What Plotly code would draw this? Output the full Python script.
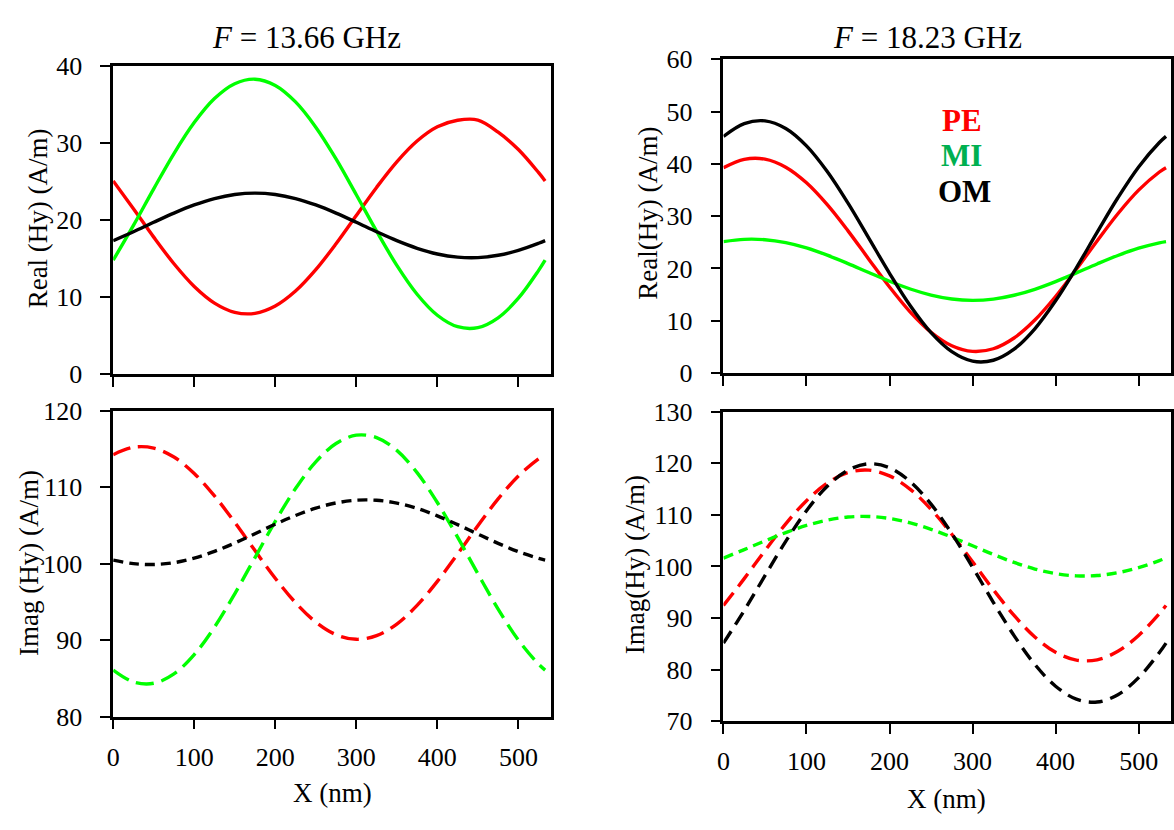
import plotly.graph_objects as go

W, H = 1174, 830

# ---------------- data ----------------
x_nm = [0, 25, 50, 75, 100, 125, 150, 175, 200, 225, 250, 275, 300,
        325, 350, 375, 400, 425, 450, 475, 500, 525, 533]

# F = 13.66 GHz, Real(Hy)
re13_pe = [25.08, 21.47, 17.78, 14.32, 11.37, 9.21, 8.01, 7.88, 8.83, 10.77, 13.55, 16.92,
           20.59, 24.24, 27.56, 30.26, 32.11, 32.96, 32.99, 31.42, 29.16, 26.15, 25.08]
re13_mi = [14.78, 19.30, 24.05, 28.64, 32.66, 35.78, 37.71, 38.30, 37.49, 35.35, 32.07, 27.94,
           23.29, 18.55, 14.11, 10.36, 7.63, 6.14, 6.02, 7.30, 9.84, 13.46, 14.78]
re13_om = [17.32, 18.48, 19.71, 20.90, 21.96, 22.79, 23.32, 23.50, 23.32, 22.79, 21.96, 20.90,
           19.71, 18.48, 17.32, 16.33, 15.59, 15.18, 15.12, 15.42, 16.06, 16.98, 17.32]

# F = 13.66 GHz, Imag(Hy)
im13_pe = [114.24, 115.21, 115.10, 113.93, 111.78, 108.85, 105.39, 101.70, 98.09, 94.89, 92.36, 90.71,
           90.10, 90.58, 92.10, 94.54, 97.68, 101.25, 104.95, 108.46, 111.46, 113.71, 114.24]
im13_mi = [86.07, 84.52, 84.35, 85.58, 88.10, 91.69, 96.05, 100.79, 105.52, 109.81, 113.31, 115.70,
           116.79, 116.48, 114.80, 111.89, 107.99, 103.46, 98.68, 94.06, 90.00, 86.84, 86.07]
im13_om = [100.46, 99.99, 99.88, 100.12, 100.71, 101.60, 102.69, 103.91, 105.15, 106.29, 107.25, 107.93,
           108.29, 108.28, 107.91, 107.22, 106.25, 105.10, 103.86, 102.65, 101.56, 100.68, 100.46]

# F = 18.23 GHz, Real(Hy)
re18_pe = [39.27, 40.88, 40.92, 39.37, 36.38, 32.19, 27.19, 21.78, 16.45, 11.65, 7.79, 5.21,
           4.13, 4.64, 6.70, 10.13, 14.64, 19.83, 25.26, 30.47, 34.98, 38.45, 39.27]
re18_mi = [25.14, 25.57, 25.50, 24.93, 23.92, 22.54, 20.93, 19.22, 17.55, 16.07, 14.91, 14.16,
           13.90, 14.14, 14.87, 16.01, 17.48, 19.15, 20.86, 22.48, 23.87, 24.90, 25.14]
re18_om = [45.26, 47.72, 48.24, 46.78, 43.45, 38.54, 32.49, 25.81, 19.08, 12.87, 7.73, 4.09,
           2.27, 2.44, 4.56, 8.46, 13.81, 20.13, 26.90, 33.52, 39.42, 44.09, 45.26]

# F = 18.23 GHz, Imag(Hy)
im18_pe = [92.44, 97.65, 103.08, 108.26, 112.75, 116.16, 118.19, 118.67, 117.55, 114.95, 111.07, 106.25,
           100.91, 95.51, 90.52, 86.36, 83.39, 81.87, 81.93, 83.57, 86.65, 90.89, 92.44]
im18_mi = [101.63, 103.27, 104.96, 106.57, 107.95, 108.98, 109.58, 109.69, 109.30, 108.45, 107.21, 105.69,
           104.01, 102.33, 100.79, 99.51, 98.62, 98.19, 98.25, 98.80, 99.79, 101.14, 101.63]
im18_om = [85.17, 91.47, 98.23, 104.86, 110.81, 115.54, 118.65, 119.89, 119.13, 116.44, 112.07, 106.38,
           99.86, 93.07, 86.61, 81.03, 76.81, 74.31, 73.75, 75.18, 78.47, 83.34, 85.17]

titles = ["<i>F</i> = 13.66 GHz", "<i>F</i> = 18.23 GHz"]
y_titles = ["Real (Hy) (A/m)", "Real(Hy) (A/m)", "Imag (Hy) (A/m)", "Imag(Hy) (A/m)"]
x_title = "X (nm)"
legend_names = ["PE", "MI", "OM"]

RED, GREEN, BLACK = "#ff0000", "#00ff00", "#000000"
FONT = "Liberation Serif, Times New Roman, serif"


def px(x):
    return x / W


def py(y):
    return 1 - y / H


fig = go.Figure()

panels = [
    ("x", "y", [re13_pe, re13_mi, re13_om], ["solid", "solid", "solid"]),
    ("x2", "y2", [re18_pe, re18_mi, re18_om], ["solid", "solid", "solid"]),
    ("x3", "y3", [im13_pe, im13_mi, im13_om], ["18px,8px", "18px,8px", "10px,6px"]),
    ("x4", "y4", [im18_pe, im18_mi, im18_om], ["16px,8px", "10px,6px", "14px,8px"]),
]
colors = [RED, GREEN, BLACK]
for xa, ya, series, dashes in panels:
    for s, c, d, n in zip(series, colors, dashes, legend_names):
        fig.add_trace(go.Scatter(x=x_nm, y=s, mode="lines", xaxis=xa, yaxis=ya, name=n,
                                 showlegend=False,
                                 line=dict(color=c, width=3.4, dash=d, shape="spline", smoothing=1.0)))

axis_common = dict(showline=True, linecolor="black", linewidth=2.6, mirror=True,
                   ticks="outside", ticklen=10, tickwidth=1.5, tickcolor="black",
                   showgrid=False, zeroline=False,
                   tickfont=dict(family=FONT, size=26, color="black"))

xl = [px(107), px(548)]
xr = [px(722), px(1173)]
dom = {
    "1": (xl, [py(373), py(54)]),
    "2": (xr, [py(372), py(47)]),
    "3": (xl, [py(728), py(411)]),
    "4": (xr, [py(733), py(412)]),
}
yr = {"1": [0, 40], "2": [0, 60], "3": [80, 120], "4": [70, 130]}
xrng = {"1": [0, 540], "2": [0, 539], "3": [0, 540], "4": [0, 539]}

lay = {}
for k in ["1", "2", "3", "4"]:
    sfx = "" if k == "1" else k
    xd, yd = dom[k]
    lay["xaxis" + sfx] = dict(axis_common, domain=xd, range=xrng[k], anchor="y" + sfx,
                              tick0=0, dtick=100, showticklabels=k in ("3", "4"),
                              ticklabelstandoff=5)
    lay["yaxis" + sfx] = dict(axis_common, domain=yd, range=yr[k], anchor="x" + sfx,
                              dtick=10, ticklabelstandoff=13)

ann = []


def add_text(text, x, y, size, color="black", angle=0, xanchor="center"):
    ann.append(dict(text=text, x=px(x), y=py(y), xref="paper", yref="paper",
                    xanchor=xanchor, yanchor="middle", textangle=angle, showarrow=False,
                    font=dict(family=FONT, size=size, color=color)))


# titles
add_text(titles[0], 302, 24, 31)
add_text(titles[1], 928, 24, 31)
# y titles
for t, xp, yp in zip(y_titles, [31, 646, 22, 633], [212, 207, 569, 571]):
    add_text(t, xp, yp, 27, angle=-90)
# x titles
add_text(x_title, 328, 807, 27)
add_text(x_title, 947, 813, 27)
# legend labels
for t, c, xp, yp in zip(legend_names, [RED, "#00b050", BLACK], [940, 939, 936], [110, 147, 184]):
    add_text("<b>%s</b>" % t, xp, yp, 31, color=c, xanchor="left")

fig.update_layout(width=W, height=H, autosize=False, margin=dict(l=0, r=0, t=0, b=0),
                  paper_bgcolor="white", plot_bgcolor="white", annotations=ann,
                  showlegend=False, **lay)

fig.write_html("out.html", config={"displayModeBar": False},
               post_script="document.body.style.margin='0';document.body.style.overflow='hidden';")
